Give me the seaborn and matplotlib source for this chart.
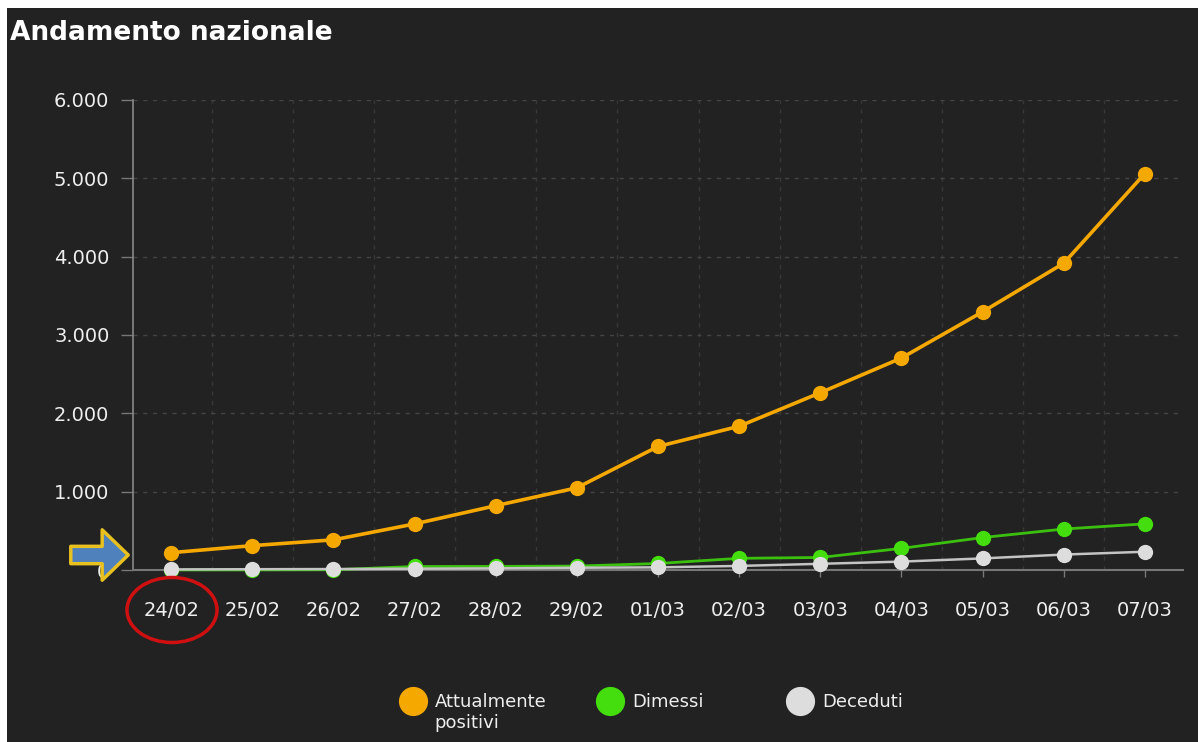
import seaborn as sns
import pandas as pd
import matplotlib.pyplot as plt
from matplotlib.lines import Line2D
from matplotlib.patches import Ellipse, Rectangle
from matplotlib.ticker import FuncFormatter, MultipleLocator

days = ["24/02", "25/02", "26/02", "27/02", "28/02", "29/02", "01/03",
        "02/03", "03/03", "04/03", "05/03", "06/03", "07/03"]
positivi = [221, 311, 385, 588, 821, 1049, 1577, 1835, 2263, 2706, 3296, 3916, 5061]
dimessi = [1, 1, 3, 45, 46, 50, 83, 149, 160, 276, 414, 523, 589]
deceduti = [7, 10, 12, 17, 21, 29, 34, 52, 79, 107, 148, 197, 233]
series_names = ["Attualmente\npositivi", "Dimessi", "Deceduti"]

bg = "#222222"
colors = ["#f5a800", "#44dd0e", "#dddddd"]
line_colors = ["#f5a800", "#3cc010", "#c4c4c4"]
widths = [2.6, 2.0, 1.8]

sns.set_theme(style="dark", rc={
    "axes.facecolor": bg,
    "figure.facecolor": "white",
    "text.color": "#eeeeee",
    "xtick.color": "#eeeeee",
    "ytick.color": "#eeeeee",
})

rows = []
for name, vals in zip(series_names, [positivi, dimessi, deceduti]):
    for i, v in enumerate(vals):
        rows.append({"giorno": i, "casi": v, "serie": name})
df = pd.DataFrame(rows)

fig = plt.figure(figsize=(11.98, 7.42), dpi=100)
fig.patches.append(Rectangle((7 / 1198, 0), 1, 1 - 8 / 742, transform=fig.transFigure,
                             fc=bg, ec="none", zorder=-5))
ax = fig.add_axes([133 / 1198, 172 / 742, (1183 - 133) / 1198, 470 / 742])

for name, c, lc, lw in zip(series_names, colors, line_colors, widths):
    sub = df[df["serie"] == name]
    sns.lineplot(data=sub, x="giorno", y="casi", color=lc, lw=lw, marker="o",
                 markersize=11, markerfacecolor=c, markeredgewidth=0,
                 legend=False, ax=ax, clip_on=False, zorder=3)

ax.set_xlim(-0.47, 12.47)
ax.set_ylim(0, 6000)
ax.set_xticks(range(len(days)))
ax.set_xticklabels(days)
ax.xaxis.set_minor_locator(MultipleLocator(1, offset=0.5))
ax.yaxis.set_major_locator(MultipleLocator(1000))
ax.yaxis.set_major_formatter(FuncFormatter(lambda v, p: f"{int(v):,}".replace(",", ".")))
ax.set_xlabel("")
ax.set_ylabel("")

ax.grid(False)
ax.grid(axis="y", which="major", color="#444444", ls=(0, (3, 4)), lw=1)
ax.grid(axis="x", which="minor", color="#383838", ls=(0, (3, 4)), lw=1)
ax.tick_params(axis="x", which="major", length=5, width=1, color="#777777",
               pad=17, labelsize=14, bottom=True)
ax.tick_params(axis="x", which="minor", length=0)
ax.tick_params(axis="y", length=9, width=1, color="#777777", pad=8,
               labelsize=14, left=True)
for s in ["top", "right"]:
    ax.spines[s].set_visible(False)
ax.spines["left"].set_color("#888888")
ax.spines["bottom"].set_color("#777777")
ax.spines["left"].set_linewidth(1.2)
ax.spines["bottom"].set_linewidth(1.5)

fig.text(10 / 1198, 1 - 40 / 742, "Andamento nazionale", fontsize=19,
         fontweight="bold", color="white")

# one legend entry per slot so the three circles sit evenly apart
legend_x = [386, 583, 773]
for c, name, lx in zip(colors, series_names, legend_x):
    h = Line2D([], [], ls="none", marker="o", markersize=21,
               markerfacecolor=c, markeredgewidth=0)
    leg = fig.legend([h], [name], loc="upper left",
                     bbox_to_anchor=(lx / 1198, 1 - 684 / 742), frameon=False,
                     fontsize=13, handletextpad=0.2, handleheight=1.2,
                     handlelength=2.0, borderpad=0, labelcolor="#eeeeee")
    for col in leg._legend_handle_box.get_children():
        for row in col.get_children():
            row.align = "top"

# callouts: arrow pointing at the first day, circle around its label
ax.annotate("", xy=(1.31, (742 - 555) / 100), xytext=(0.68, (742 - 555) / 100),
            xycoords=fig.dpi_scale_trans, textcoords=fig.dpi_scale_trans,
            arrowprops=dict(arrowstyle="simple,head_length=0.75,head_width=1.45,tail_width=0.5",
                            mutation_scale=25, fc="#4f81bd", ec="#e8c020", lw=2.5),
            annotation_clip=False)
fig.patches.append(Ellipse((1.72, (742 - 610) / 100), 0.9, 0.65,
                           transform=fig.dpi_scale_trans, fill=False,
                           ec="#d01010", lw=2.5))

plt.savefig("out.png", dpi=100, facecolor="white")
